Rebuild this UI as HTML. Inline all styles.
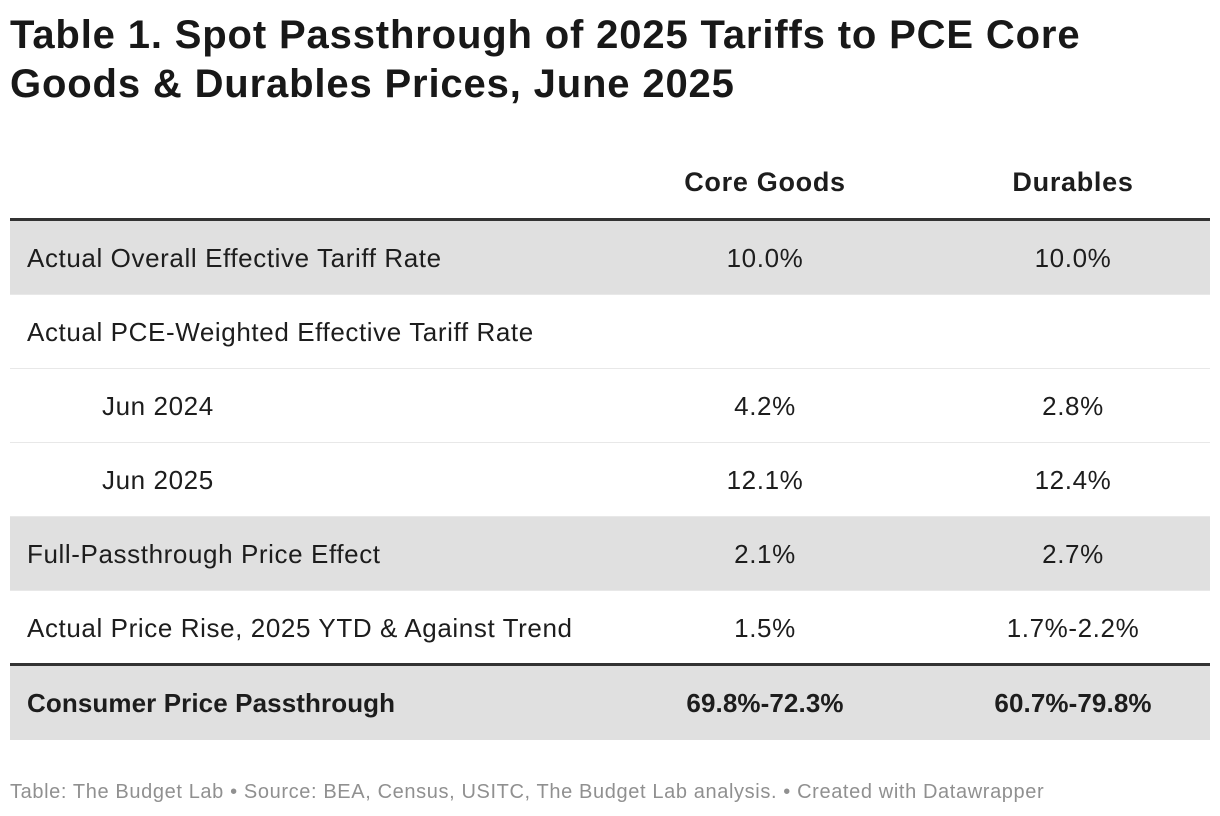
<!DOCTYPE html>
<html><head><meta charset="utf-8"><style>
body{margin:0;width:1220px;height:816px;background:#fff;font-family:"Liberation Sans",sans-serif;color:#1d1d1d;position:relative;overflow:hidden}
.t{position:absolute;left:10px;top:11px;font-size:40px;font-weight:bold;line-height:49px;letter-spacing:0.85px;color:#181818}
.h{position:absolute;top:167px;font-size:27px;font-weight:bold;text-align:center;width:300px;letter-spacing:0.7px}
.row{position:absolute;left:10px;width:1200px;height:73px;border-bottom:1px solid #e8e8e8;font-size:26px;letter-spacing:0.6px}
.row span{position:absolute;top:22px}
.c1{left:605px;width:300px;text-align:center}
.c2{left:913px;width:300px;text-align:center}
.g{background:#e0e0e0}
.line{position:absolute;left:10px;width:1200px;height:3px;background:#333}
.f{position:absolute;left:10px;top:781px;font-size:20px;color:#909090;letter-spacing:0.62px}
</style></head><body>
<div class="t">Table 1. Spot Passthrough of 2025 Tariffs to PCE Core<br>Goods &amp; Durables Prices, June 2025</div>
<div class="h" style="left:615px">Core Goods</div>
<div class="h" style="left:923px">Durables</div>
<div class="line" style="top:218px"></div>
<div class="row g" style="top:221px"><span style="left:17px">Actual Overall Effective Tariff Rate</span><span class="c1">10.0%</span><span class="c2">10.0%</span></div>
<div class="row" style="top:295px"><span style="left:17px">Actual PCE-Weighted Effective Tariff Rate</span></div>
<div class="row" style="top:369px"><span style="left:92px">Jun 2024</span><span class="c1">4.2%</span><span class="c2">2.8%</span></div>
<div class="row" style="top:443px"><span style="left:92px">Jun 2025</span><span class="c1">12.1%</span><span class="c2">12.4%</span></div>
<div class="row g" style="top:517px"><span style="left:17px">Full-Passthrough Price Effect</span><span class="c1">2.1%</span><span class="c2">2.7%</span></div>
<div class="row" style="top:591px;border-bottom:none"><span style="left:17px">Actual Price Rise, 2025 YTD &amp; Against Trend</span><span class="c1">1.5%</span><span class="c2">1.7%-2.2%</span></div>
<div class="line" style="top:663px"></div>
<div class="row g" style="top:666px;font-weight:bold;border-bottom:none;height:74px;letter-spacing:0.1px"><span style="left:17px">Consumer Price Passthrough</span><span class="c1">69.8%-72.3%</span><span class="c2">60.7%-79.8%</span></div>
<div class="f">Table: The Budget Lab • Source: BEA, Census, USITC, The Budget Lab analysis. • Created with Datawrapper</div>
</body></html>
